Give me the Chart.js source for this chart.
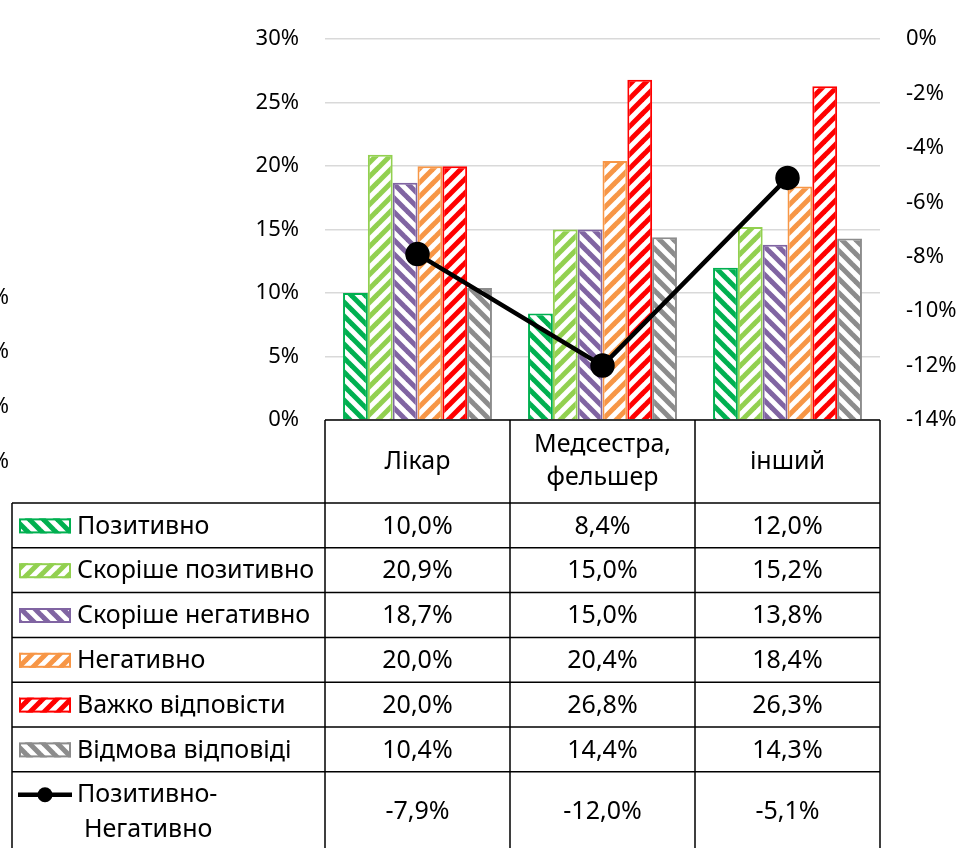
<!DOCTYPE html>
<html>
<head>
<meta charset="utf-8">
<script src="https://cdn.jsdelivr.net/npm/chart.js@4/dist/chart.umd.min.js"></script>
<style>
  body { margin: 0; background: #fff; }
  canvas { display: block; }
</style>
</head>
<body>
<canvas id="myChart" width="970" height="848"></canvas>
<script>
// chart data
var categories = [["Лікар"], ["Медсестра,", "фельшер"], ["інший"]];
var seriesNames = ["Позитивно", "Скоріше позитивно", "Скоріше негативно", "Негативно", "Важко відповісти", "Відмова відповіді"];
var positive = [10.0, 8.4, 12.0];
var ratherPositive = [20.9, 15.0, 15.2];
var ratherNegative = [18.7, 15.0, 13.8];
var negative = [20.0, 20.4, 18.4];
var hardToSay = [20.0, 26.8, 26.3];
var refused = [10.4, 14.4, 14.3];
var lineName = ["Позитивно-", "Негативно"];
var posMinusNeg = [-7.9, -12.0, -5.1];
var leftTicks = [0, 5, 10, 15, 20, 25, 30];
var rightTicks = [-14, -12, -10, -8, -6, -4, -2, 0];

var barValues = [positive, ratherPositive, ratherNegative, negative, hardToSay, refused];
var colors = ["#00b050", "#92d050", "#8064a2", "#f79646", "#ff0000", "#8c8c8c"];
var dirs = ["\\", "/", "\\", "/", "/", "\\"];
var FONT = "'Noto Sans', sans-serif";

// striped fill like excel "wide diagonal"
function stripes(color, dir) {
    var c = document.createElement("canvas");
    var s = 14;
    c.width = s; c.height = s;
    var g = c.getContext("2d");
    g.fillStyle = "#fff";
    g.fillRect(0, 0, s, s);
    g.strokeStyle = color;
    g.lineWidth = 5;
    for (var k = -1; k <= 1; k++) {
        g.beginPath();
        if (dir == "/") {
            g.moveTo(-2 + k * s, s + 2);
            g.lineTo(s + 2 + k * s, -2);
        } else {
            g.moveTo(-2 + k * s, -2);
            g.lineTo(s + 2 + k * s, s + 2);
        }
        g.stroke();
    }
    return g.createPattern(c, "repeat");
}

var fills = colors.map(function(c, i) { return stripes(c, dirs[i]); });

function fmt(v) {
    return v.toFixed(1).replace(".", ",") + "%";
}

var datasets = barValues.map(function(vals, i) {
    return {
        type: "bar",
        label: seriesNames[i],
        data: vals,
        backgroundColor: fills[i],
        borderColor: colors[i],
        borderWidth: 2,
        yAxisID: "y",
        order: 1
    };
});
datasets.push({
    type: "line",
    label: lineName.join(""),
    data: posMinusNeg,
    borderColor: "#000",
    backgroundColor: "#000",
    borderWidth: 4.5,
    pointRadius: 10,
    pointHoverRadius: 10,
    yAxisID: "y1",
    order: 0
});

// data table under the plot + cut off labels on the left edge
var tablePlugin = {
    id: "dataTable",
    afterDraw: function(chart) {
        var ctx = chart.ctx;
        var x = chart.scales.x;
        var top = chart.chartArea.bottom;
        var colW = x.width / categories.length;
        var headH = 83;
        var rowH = 44.8;
        var tableLeft = 12;
        var bottom = chart.height;
        ctx.save();
        ctx.strokeStyle = "#000";
        ctx.lineWidth = 1.5;
        ctx.beginPath();
        ctx.moveTo(x.left, top); ctx.lineTo(x.right, top);
        for (var c = 0; c <= categories.length; c++) {
            var vx = x.left + c * colW;
            ctx.moveTo(vx, top); ctx.lineTo(vx, bottom);
        }
        var rowsTop = top + headH;
        for (var r = 0; r <= seriesNames.length; r++) {
            ctx.moveTo(tableLeft, rowsTop + r * rowH);
            ctx.lineTo(x.right, rowsTop + r * rowH);
        }
        ctx.moveTo(tableLeft, rowsTop); ctx.lineTo(tableLeft, bottom);
        ctx.stroke();

        ctx.fillStyle = "#000";
        ctx.textAlign = "center";
        ctx.textBaseline = "middle";
        ctx.font = "25px " + FONT;
        categories.forEach(function(lines, i) {
            var cx = x.getPixelForValue(i);
            var cy = top + headH / 2;
            lines.forEach(function(t, j) {
                ctx.fillText(t, cx, cy + (j - (lines.length - 1) / 2) * 33);
            });
        });

        // bar rows
        barValues.forEach(function(vals, r) {
            var cy = rowsTop + r * rowH + rowH / 2;
            ctx.fillStyle = fills[r];
            ctx.fillRect(19, cy - 7, 52, 15);
            ctx.strokeStyle = colors[r];
            ctx.lineWidth = 2;
            ctx.strokeRect(20, cy - 6, 50, 13);
            ctx.fillStyle = "#000";
            ctx.textAlign = "left";
            ctx.font = "25px " + FONT;
            ctx.fillText(seriesNames[r], 77, cy + 1);
            ctx.textAlign = "center";
            vals.forEach(function(v, i) {
                ctx.fillText(fmt(v), x.getPixelForValue(i), cy + 1);
            });
        });

        // line row
        var lineTop = rowsTop + seriesNames.length * rowH;
        var ly = lineTop + 23;
        ctx.strokeStyle = "#000";
        ctx.lineWidth = 4.5;
        ctx.beginPath();
        ctx.moveTo(18, ly); ctx.lineTo(72, ly);
        ctx.stroke();
        ctx.beginPath();
        ctx.arc(45, ly, 7.5, 0, Math.PI * 2);
        ctx.fill();
        ctx.textAlign = "left";
        ctx.fillText(lineName[0], 77, ly);
        ctx.fillText(lineName[1], 84, ly + 35);
        ctx.textAlign = "center";
        posMinusNeg.forEach(function(v, i) {
            ctx.fillText(fmt(v), x.getPixelForValue(i), lineTop + 40);
        });

        // leftovers of a neighbouring chart's axis at the very left edge
        ctx.textAlign = "right";
        ctx.font = "22px " + FONT;
        [298, 352, 407, 462].forEach(function(y) {
            ctx.fillText("%", 9, y);
        });
        ctx.restore();
    }
};

var ctx = document.getElementById("myChart");
var myChart = new Chart(ctx, {
    data: {
        labels: categories.map(function(l) { return l.join(" "); }),
        datasets: datasets
    },
    options: {
        responsive: false,
        animation: false,
        devicePixelRatio: 1,
        layout: { padding: { top: 38, bottom: 428, left: 0, right: 0 } },
        plugins: {
            legend: { display: false },
            tooltip: { enabled: false }
        },
        datasets: {
            bar: { categoryPercentage: 0.805, barPercentage: 1 }
        },
        scales: {
            x: {
                display: false,
                offset: true
            },
            y: {
                position: "left",
                min: 0,
                max: 30,
                afterBuildTicks: function(s) { s.ticks = leftTicks.map(function(v) { return { value: v }; }); },
                afterFit: function(s) { s.width = 325; },
                grid: { color: "#d9d9d9", lineWidth: 1.5, drawTicks: false },
                border: { display: false },
                ticks: {
                    padding: 26,
                    color: "#000",
                    font: { family: FONT, size: 22 },
                    callback: function(v) { return v + "%"; }
                }
            },
            y1: {
                position: "right",
                min: -14,
                max: 0,
                afterBuildTicks: function(s) { s.ticks = rightTicks.map(function(v) { return { value: v }; }); },
                afterFit: function(s) { s.width = 90; },
                grid: { display: false, drawTicks: false },
                border: { display: false },
                ticks: {
                    padding: 26,
                    color: "#000",
                    font: { family: FONT, size: 22 },
                    callback: function(v) { return v + "%"; }
                }
            }
        }
    },
    plugins: [tablePlugin]
});
</script>
</body>
</html>
